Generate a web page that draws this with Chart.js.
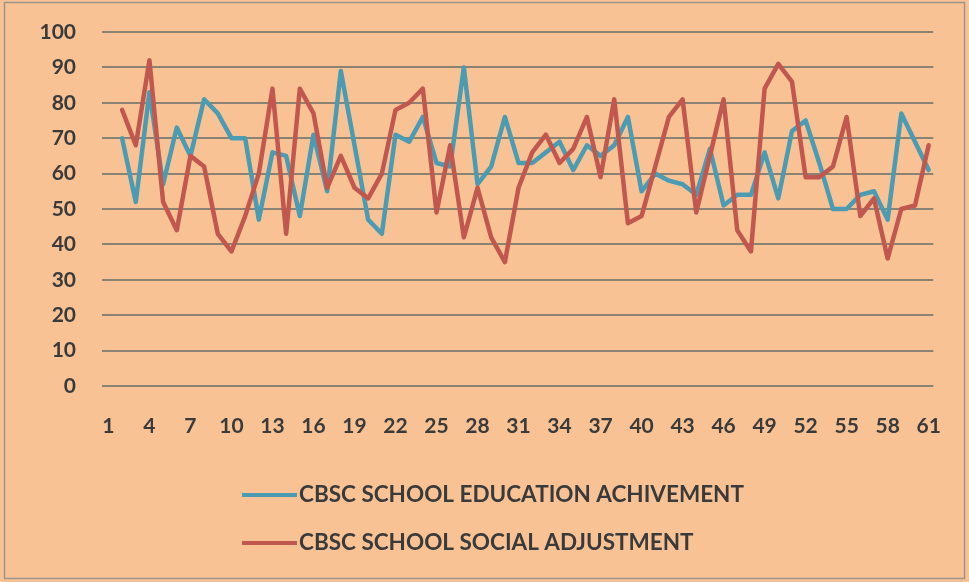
<!DOCTYPE html>
<html>
<head>
<meta charset="utf-8">
<script src="https://cdn.jsdelivr.net/npm/chart.js@4"></script>
<style>
  html, body { margin: 0; padding: 0; background: #f9c294; }
  canvas { display: block; }
</style>
</head>
<body>
<canvas id="chart" width="969" height="582"></canvas>
<script>
// categories 1..61, the series start at category 2
const categories = [
  1, 2, 3, 4, 5, 6, 7, 8, 9, 10, 11, 12, 13, 14, 15, 16, 17, 18, 19, 20,
  21, 22, 23, 24, 25, 26, 27, 28, 29, 30, 31, 32, 33, 34, 35, 36, 37, 38, 39, 40,
  41, 42, 43, 44, 45, 46, 47, 48, 49, 50, 51, 52, 53, 54, 55, 56, 57, 58, 59, 60, 61
];
const xTickLabels = [1, 4, 7, 10, 13, 16, 19, 22, 25, 28, 31, 34, 37, 40, 43, 46, 49, 52, 55, 58, 61];

const educationValues = [
  null,
  70, 52, 83, 57, 73, 65, 81, 77, 70, 70,
  47, 66, 65, 48, 71, 55, 89, 68, 47, 43,
  71, 69, 76, 63, 62, 90, 57, 62, 76, 63,
  63, 66, 69, 61, 68, 65, 68, 76, 55, 60,
  58, 57, 54, 67, 51, 54, 54, 66, 53, 72,
  75, 63, 50, 50, 54, 55, 47, 77, 69, 61
];
const socialValues = [
  null,
  78, 68, 92, 52, 44, 65, 62, 43, 38, 48,
  60, 84, 43, 84, 77, 56, 65, 56, 53, 60,
  78, 80, 84, 49, 68, 42, 56, 42, 35, 56,
  66, 71, 63, 67, 76, 59, 81, 46, 48, 62,
  76, 81, 49, 65, 81, 44, 38, 84, 91, 86,
  59, 59, 62, 76, 48, 53, 36, 50, 51, 68
];
const seriesNames = ['CBSC SCHOOL EDUCATION ACHIVEMENT', 'CBSC SCHOOL SOCIAL ADJUSTMENT'];

const textColor = '#3a3a3a';
const tickFont = { family: 'Lato', size: 21, weight: 'bold' };

// peach background + thin frame
const pageBackground = {
  id: 'pageBackground',
  beforeDraw(chart) {
    const { ctx, width, height } = chart;
    ctx.save();
    ctx.fillStyle = '#f9c294';
    ctx.fillRect(0, 0, width, height);
    ctx.strokeStyle = '#9b958e';
    ctx.lineWidth = 1.5;
    ctx.strokeRect(4.5, 2.5, width - 9, height - 6);
    ctx.restore();
  }
};

// legend stacked one item per row, left aligned
const stackedLegend = {
  id: 'stackedLegend',
  afterDraw(chart, args, opts) {
    const ctx = chart.ctx;
    ctx.save();
    ctx.font = 'bold 22.5px Lato';
    ctx.textBaseline = 'middle';
    ctx.textAlign = 'left';
    chart.data.datasets.forEach((ds, i) => {
      const y = opts.top + i * opts.rowGap;
      ctx.strokeStyle = ds.borderColor;
      ctx.lineWidth = 4;
      ctx.beginPath();
      ctx.moveTo(opts.left, y);
      ctx.lineTo(opts.left + opts.lineLength, y);
      ctx.stroke();
      ctx.fillStyle = textColor;
      ctx.fillText(ds.label, opts.left + opts.lineLength + 2, y);
    });
    ctx.restore();
  }
};

new Chart(document.getElementById('chart'), {
  type: 'line',
  data: {
    datasets: [
      {
        label: seriesNames[0],
        data: categories.map((c, i) => ({ x: c, y: educationValues[i] })),
        borderColor: '#4b9cb3',
        order: 1
      },
      {
        label: seriesNames[1],
        data: categories.map((c, i) => ({ x: c, y: socialValues[i] })),
        borderColor: '#c0584f',
        order: 0
      }
    ]
  },
  options: {
    responsive: false,
    animation: false,
    layout: { padding: { left: 0, top: 32, right: 29, bottom: 136 } },
    elements: {
      point: { radius: 0 },
      line: { borderWidth: 4.5, tension: 0, borderJoinStyle: 'round', borderCapStyle: 'round' }
    },
    plugins: {
      legend: { display: false },
      tooltip: { enabled: false },
      stackedLegend: { left: 242, lineLength: 55, top: 495, rowGap: 48 }
    },
    scales: {
      x: {
        type: 'linear',
        min: 0.53,
        max: 61.34,
        grid: { display: false, drawTicks: false },
        border: { display: false },
        afterBuildTicks: s => { s.ticks = xTickLabels.map(v => ({ value: v })); },
        afterFit: s => { s.height = 60; },
        ticks: { color: textColor, font: tickFont, padding: 28, autoSkip: false, maxRotation: 0 }
      },
      y: {
        min: 0,
        max: 100,
        ticks: { stepSize: 10, padding: 26, color: textColor, font: tickFont },
        grid: { color: '#8a8374', lineWidth: 2, drawTicks: false },
        border: { display: false },
        afterFit: s => { s.width = 102; s.paddingTop = 0; s.paddingBottom = 0; }
      }
    }
  },
  plugins: [pageBackground, stackedLegend]
});
</script>
</body>
</html>
